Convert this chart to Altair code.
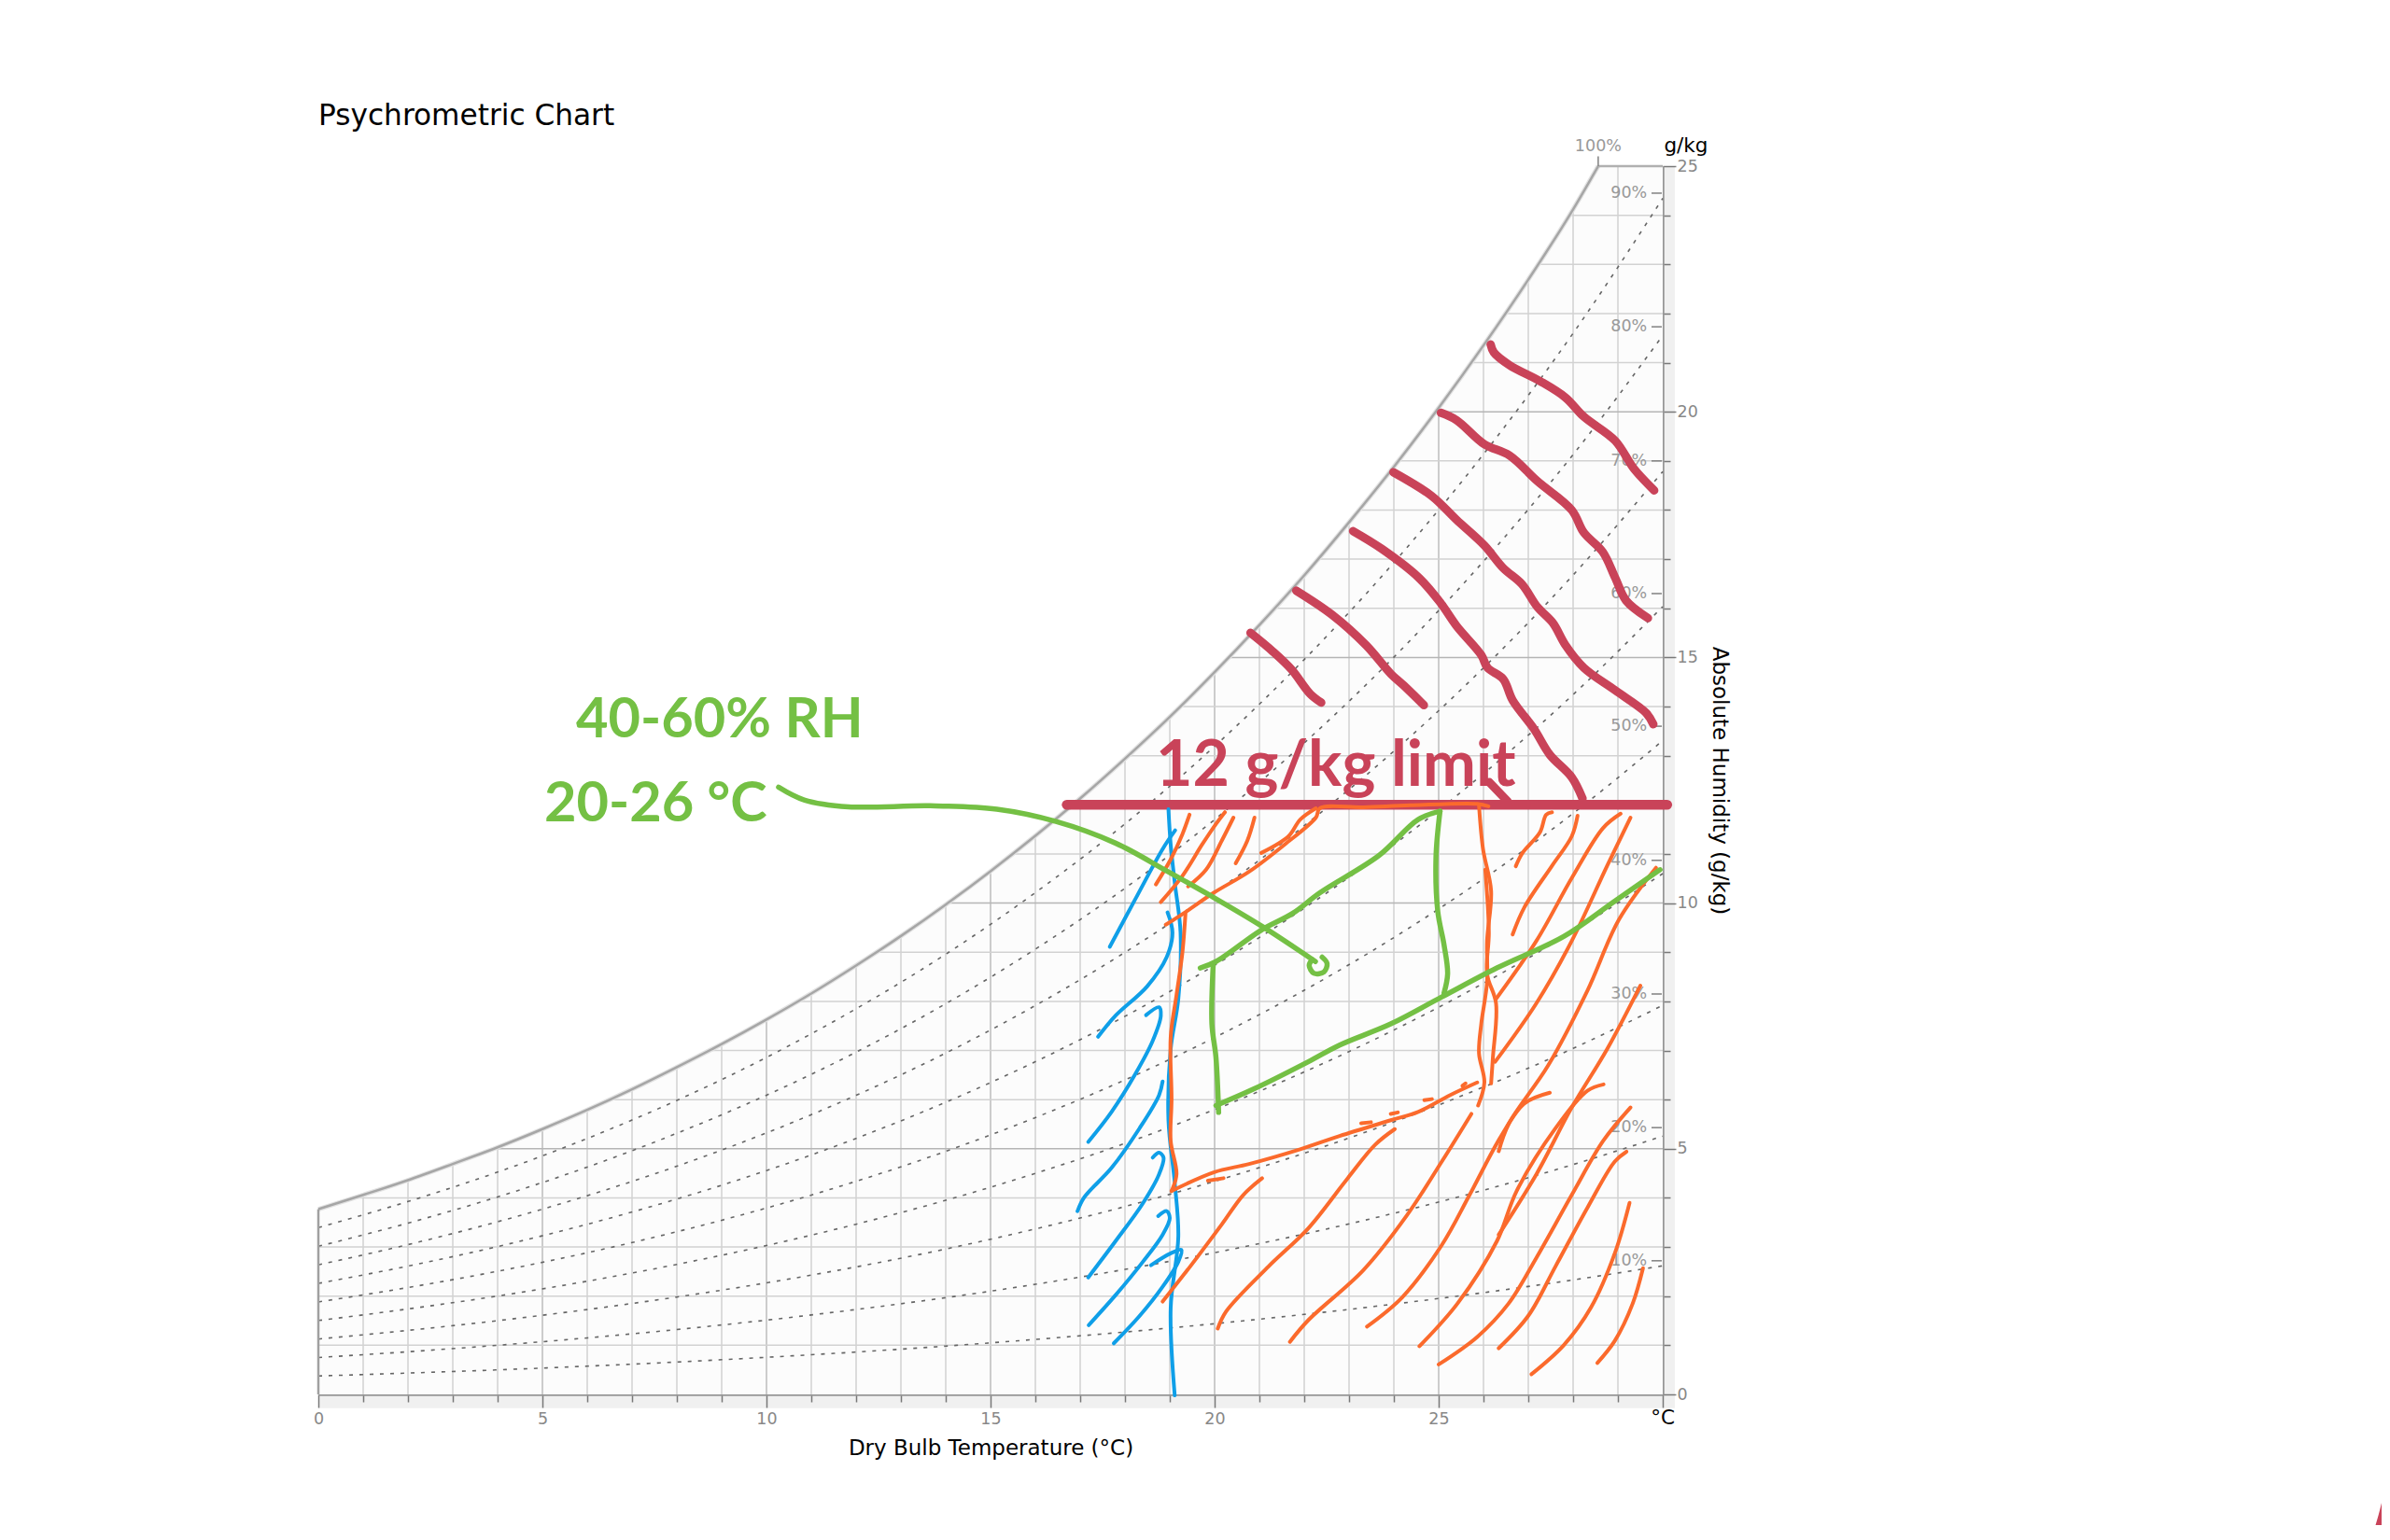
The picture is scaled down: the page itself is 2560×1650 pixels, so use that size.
import altair as alt
import pandas as pd

FONT = "DejaVu Sans"
BLUE, ORANGE, GREEN, RED = "#0f9fe8", "#fb6a2c", "#74c044", "#c94359"

# saturation curve
SAT_T = [0,1,2,3,4,5,6,7,8,9,10,11,12,13,14,15,16,17,18,19,20,21,22,23,24,25,26,27,28,28.56]
SAT_H = [3.77,4.06,4.36,4.69,5.03,5.40,5.79,6.21,6.66,7.13,7.63,8.16,8.73,9.33,9.97,10.65,11.37,12.13,12.94,13.79,14.70,15.66,16.67,17.75,18.88,20.08,21.35,22.69,24.12,25.0]

# relative humidity curves
RH_T = [0,2,4,6,8,10,12,14,16,18,20,22,24,26,28,30]
RH10 = [.375,.434,.499,.575,.659,.755,.862,.983,1.119,1.270,1.439,1.628,1.838,2.071,2.330,2.617]
RH20 = [.751,.868,1.000,1.150,1.320,1.512,1.728,1.969,2.241,2.544,2.885,3.265,3.687,4.156,4.679,5.257]
RH30 = [1.127,1.303,1.501,1.727,1.982,2.270,2.595,2.959,3.368,3.824,4.338,4.909,5.546,6.256,7.043,7.919]
RH40 = [1.504,1.739,2.002,2.304,2.646,3.030,3.464,3.951,4.499,5.109,5.797,6.563,7.416,8.368,9.425,10.601]
RH50 = [1.882,2.175,2.506,2.883,3.311,3.793,4.337,4.947,5.634,6.401,7.263,8.225,9.298,10.494,11.826,13.307]
RH60 = [2.259,2.611,3.009,3.463,3.977,4.556,5.211,5.946,6.772,7.696,8.735,9.896,11.190,12.635,14.243,16.034]
RH70 = [2.637,3.049,3.514,4.044,4.645,5.322,6.087,6.947,7.915,8.997,10.214,11.575,13.092,14.787,16.677,18.781]
RH80 = [3.015,3.486,4.019,4.626,5.315,6.090,6.966,7.952,9.063,10.302,11.700,13.261,15.006,16.956,19.129,21.552]
RH90 = [3.394,3.926,4.524,5.209,5.984,6.859,7.849,8.959,10.213,11.613,13.192,14.957,16.930,19.137,21.598,24.344]
RH_ALL = [RH10, RH20, RH30, RH40, RH50, RH60, RH70, RH80, RH90]

RH_LABELS = ["10%","20%","30%","40%","50%","60%","70%","80%","90%"]
RH_LABEL_H = [2.72,5.43,8.15,10.87,13.6,16.3,19.0,21.73,24.45]

X_VALUES = list(range(0, 31))
Y_VALUES = list(range(0, 26))

# hand-drawn strokes: (dry bulb list, humidity list)
BLUE_STROKES = [
 ([18.97,19.02,19.11,19.24,19.19,19.02,18.97,19.11,19.19,19.02,19.11],[11.91,11.19,10.42,9.40,8.05,7.03,5.58,4.31,3.21,1.76,-0.02]),
 ([17.66,18.23,18.84,19.12],[9.11,10.08,11.10,11.48]),
 ([17.40,17.79,18.49,18.93,19.06,18.95],[7.28,7.71,8.30,8.90,9.40,9.81]),
 ([17.18,17.70,18.23,18.62,18.80,18.76,18.47],[5.14,5.75,6.52,7.20,7.71,7.88,7.72]),
 ([16.94,17.09,17.70,18.32,18.76,18.84],[3.73,4.01,4.61,5.41,6.09,6.37]),
 ([17.18,17.79,18.40,18.76,18.86,18.76,18.62],[2.38,3.12,3.89,4.48,4.82,4.92,4.82]),
 ([17.19,17.79,18.40,18.84,19.0,18.93,18.74],[1.41,2.02,2.70,3.25,3.59,3.73,3.63]),
 ([17.75,18.32,18.84,19.19,19.26,19.02,18.58],[1.04,1.59,2.19,2.70,2.94,2.87,2.63]),
]
ORANGE_STROKES = [
 ([18.69,19.02,19.28,19.44],[10.38,10.89,11.40,11.80]),
 ([18.80,19.28,19.72,20.03,20.23],[10.02,10.55,11.19,11.61,11.85]),
 ([19.41,19.81,20.16,20.42],[10.34,10.68,11.27,11.74]),
 ([20.47,20.73,20.89],[10.81,11.27,11.74]),
 ([18.91,19.37,19.98,20.77,21.56,22.26,22.35,23.32,24.37,25.86,26.11],[9.56,9.83,10.21,10.64,11.19,11.74,11.93,11.95,11.99,12.02,11.97]),
 ([21.04,21.65,21.91,22.26],[11.02,11.36,11.70,11.93]),
 ([19.35,19.28,19.15,19.02,19.04,19.02,19.15,19.04],[9.79,8.98,8.13,7.28,6.01,5.16,4.48,4.14]),
 ([19.04,19.98,20.77,21.91,22.79,23.93,24.54,25.25,25.86],[4.14,4.52,4.69,4.99,5.26,5.58,5.75,6.09,6.35]),
 ([19.85,20.20],[4.35,4.40]),
 ([23.27,23.49],[5.52,5.54]),
 ([23.93,24.09],[5.71,5.74]),
 ([24.68,24.85],[5.99,6.01]),
 ([25.53,25.60],[6.28,6.33]),
 ([25.90,25.99,26.17,26.08,26.08,25.95,25.90,26.02,25.88],[11.99,11.10,10.25,9.23,8.39,7.54,6.94,6.35,5.88]),
 ([26.04,26.12,26.08,26.28,26.21,26.17],[10.68,9.40,8.56,7.96,6.86,6.33]),
 ([26.72,26.87,27.26,27.40,27.53],[10.75,11.02,11.44,11.80,11.85]),
 ([26.65,26.91,27.53,27.97,28.10],[9.36,9.91,10.76,11.36,11.78]),
 ([26.28,27.18,27.97,28.67,29.06],[8.05,9.23,10.51,11.53,11.82]),
 ([26.26,27.18,27.97,28.76,29.28],[6.77,7.96,9.23,10.76,11.74]),
 ([26.34,26.56,27.44,28.32,29.02,29.85],[4.95,5.50,6.69,8.22,9.66,10.72]),
 ([26.34,27.18,27.97,28.76,29.50],[3.25,4.48,5.84,7.03,8.32]),
 ([18.84,19.46,20.16,20.64,21.06],[1.89,2.61,3.46,4.06,4.40]),
 ([20.07,20.25,21.21,22.09,22.97,23.58,24.02],[1.34,1.68,2.61,3.38,4.40,5.08,5.40]),
 ([21.68,22.09,23.32,24.28,25.07,25.73],[1.07,1.51,2.53,3.63,4.74,5.71]),
 ([23.40,24.19,25.07,25.69,26.39,26.91,27.48],[1.38,1.98,3.04,4.06,5.25,5.92,6.14]),
 ([24.57,25.42,26.30,26.74,27.61,28.32,28.68],[0.98,1.85,3.12,4.14,5.42,6.18,6.31]),
 ([25.0,25.86,26.56,27.18,27.97,28.67,29.28],[0.61,1.17,1.85,2.78,4.06,5.16,5.84]),
 ([26.34,27.0,27.61,28.32,28.93,29.19],[0.94,1.60,2.61,3.80,4.74,4.94]),
 ([27.07,27.79,28.40,28.93,29.26],[0.41,1.00,1.77,2.87,3.90]),
 ([28.54,28.93,29.33,29.56],[0.64,1.09,1.85,2.57]),
]
GREEN_STROKES = [
 ([19.68,20.03,21.04,21.74,22.35,23.67,24.54,25.03],[8.68,8.81,9.45,9.79,10.21,10.97,11.70,11.87]),
 ([25.03,24.94,24.98,25.12,25.20,25.12],[11.87,10.93,9.83,9.15,8.56,8.17]),
 ([19.97,19.94,20.03,20.09],[8.77,7.54,6.86,5.74]),
 ([20.03,20.86,22.09,22.79,23.93,25.07,26.30,27.79,28.93,29.94],[5.88,6.21,6.77,7.11,7.54,8.09,8.68,9.32,10.04,10.68]),
 ([10.27,10.84,11.83,13.65,15.14,16.46,17.79,18.94,19.93,21.09,22.25],[12.36,12.10,11.96,11.98,11.91,11.66,11.22,10.65,10.14,9.51,8.81]),
 ([22.18,22.11,22.22,22.44,22.51,22.40],[8.85,8.73,8.57,8.60,8.77,8.90]),
]
RED_STROKES = [
 ([26.16,26.23,26.58,27.27,27.83,28.24,28.94,29.35,29.81],[21.37,21.21,20.95,20.62,20.29,19.90,19.41,18.85,18.40]),
 ([25.05,25.40,26.02,26.58,27.20,27.97,28.24,28.66,28.94,29.18,29.67],[19.98,19.83,19.34,19.11,18.59,18.0,17.54,17.15,16.62,16.16,15.80]),
 ([23.99,24.84,25.40,26.02,26.44,26.86,27.20,27.55,27.83,28.24,28.94,29.63,29.79],[18.77,18.29,17.80,17.28,16.82,16.49,16.03,15.70,15.25,14.79,14.33,13.87,13.64]),
 ([23.09,23.73,24.56,25.05,25.40,25.95,26.09,26.44,26.65,27.13,27.48,27.97,28.21],[17.57,17.21,16.62,16.10,15.64,15.05,14.79,14.56,14.13,13.54,13.02,12.56,12.13]),
 ([21.82,22.62,23.38,23.94,24.22,24.67],[16.36,15.87,15.25,14.66,14.43,14.03]),
 ([20.80,21.30,21.72,22.13,22.38],[15.50,15.12,14.75,14.26,14.08]),
 ([26.13,26.54],[12.46,12.07]),
 ([45.9,46.06,46.19],[-2.96,-2.49,-2.01]),
]
LIMIT_T = [16.7, 30.1]
LIMIT_H = [12.0, 12.0]

xs = alt.Scale(domain=[0, 30], nice=False, zero=False)
ys = alt.Scale(domain=[0, 25], nice=False, zero=False)
X_TITLE = "Dry Bulb Temperature (°C)"
Y_TITLE = "Absolute Humidity (g/kg)"
X_AXIS = alt.Axis(
    values=X_VALUES, grid=False, labelExpr="datum.value % 5 === 0 && datum.value < 30 ? datum.label : ''",
    labelFont=FONT, labelFontSize=17.5, labelColor="#888888", labelPadding=3, labelOverlap=False, labelFlush=False,
    tickColor="#808080", tickWidth=1.5, tickSize=alt.ExprRef("datum.value % 5 === 0 ? 14 : 8"),
    domainColor="#a0a0a0", domainWidth=2.5,
    titleFont=FONT, titleFontSize=23, titleFontWeight="normal", titleColor="#000000", titlePadding=12)
Y_AXIS = alt.Axis(
    orient="right", values=Y_VALUES, grid=False, labelExpr="datum.value % 5 === 0 ? datum.label : ''",
    labelFont=FONT, labelFontSize=17.5, labelColor="#888888", labelPadding=1, labelOverlap=False, labelFlush=False,
    tickColor="#808080", tickWidth=1.5, tickSize=alt.ExprRef("datum.value % 5 === 0 ? 14 : 8"),
    domainColor="#a0a0a0", domainWidth=2.5,
    titleFont=FONT, titleFontSize=23, titleFontWeight="normal", titleColor="#000000", titlePadding=11)
X = lambda f: alt.X(f, type="quantitative", scale=xs, title=X_TITLE, axis=X_AXIS)
Y = lambda f: alt.Y(f, type="quantitative", scale=ys, title=Y_TITLE, axis=Y_AXIS)


def stroke_df(strokes):
    rows = []
    for k, (ts, hs) in enumerate(strokes):
        for i, (t, h) in enumerate(zip(ts, hs)):
            rows.append({"t": t, "h": h, "k": k, "i": i})
    return pd.DataFrame(rows)


def strokes_layer(strokes, color, width):
    return alt.Chart(stroke_df(strokes)).mark_line(
        color=color, strokeWidth=width, strokeCap="round", strokeJoin="round",
        interpolate="catmull-rom", clip=False
    ).encode(x=X("t"), y=Y("h"), detail="k:N", order="i:Q")


def box(t, t2, h, h2, **kw):
    d = pd.DataFrame({"t": [t], "t2": [t2], "h": [h], "h2": [h2]})
    return alt.Chart(d).mark_rect(**kw).encode(x=X("t"), x2="t2", y=Y("h"), y2="h2")


def label(texts, ts, hs, **kw):
    d = pd.DataFrame({"s": texts, "t": ts, "h": hs})
    return alt.Chart(d).mark_text(**kw).encode(x=X("t"), y=Y("h"), text="s:N")


grid_v_minor = alt.Chart(pd.DataFrame({"t": [v for v in X_VALUES if v % 5]})).mark_rule(color="#d2d2d2", strokeWidth=1.5).encode(x=X("t"))
grid_v_major = alt.Chart(pd.DataFrame({"t": [v for v in X_VALUES if v % 5 == 0 and 0 < v < 30]})).mark_rule(color="#bdbdbd", strokeWidth=1.5).encode(x=X("t"))
grid_h_minor = alt.Chart(pd.DataFrame({"h": [v for v in Y_VALUES if v % 5]})).mark_rule(color="#d2d2d2", strokeWidth=1.5).encode(y=Y("h"))
grid_h_major = alt.Chart(pd.DataFrame({"h": [v for v in Y_VALUES if v % 5 == 0 and 0 < v < 25]})).mark_rule(color="#b5b5b5", strokeWidth=1.5).encode(y=Y("h"))

sat = pd.DataFrame({"t": SAT_T, "h": SAT_H, "top": [25.0] * len(SAT_T)})
mask = alt.Chart(sat).mark_area(color="#ffffff", opacity=1, interpolate="monotone").encode(x=X("t"), y=Y("h"), y2="top")
curve_soft = alt.Chart(sat).mark_line(color="#e2e2e2", strokeWidth=5, interpolate="monotone").encode(x=X("t"), y=Y("h"))
curve = alt.Chart(sat).mark_line(color="#a6a6a6", strokeWidth=2.5, interpolate="monotone").encode(x=X("t"), y=Y("h"))

rh_df = pd.concat([pd.DataFrame({"t": RH_T, "h": vals, "rh": name}) for name, vals in zip(RH_LABELS, RH_ALL)])
rh_lines = alt.Chart(rh_df).mark_line(color="#666666", strokeWidth=1.6, strokeDash=[4, 7], interpolate="monotone").encode(
    x=X("t"), y=Y("h"), detail="rh:N")

left_edge = alt.Chart(pd.DataFrame({"t": [0], "h": [0], "h2": [SAT_H[0]]})).mark_rule(color="#a0a0a0", strokeWidth=2.5).encode(x=X("t"), y=Y("h"), y2="h2")
top_edge = alt.Chart(pd.DataFrame({"t": [SAT_T[-1]], "t2": [30], "h": [25]})).mark_rule(color="#b0b0b0", strokeWidth=2.5).encode(x=X("t"), x2="t2", y=Y("h"))
top_tick = alt.Chart(pd.DataFrame({"t": [SAT_T[-1]], "h": [25], "h2": [25.2]})).mark_rule(color="#808080", strokeWidth=1.5).encode(x=X("t"), y=Y("h"), y2="h2")
rh_ticks = alt.Chart(pd.DataFrame({"t": [29.75] * 9, "t2": [29.98] * 9, "h": RH_LABEL_H})).mark_rule(color="#808080", strokeWidth=1.5).encode(x=X("t"), x2="t2", y=Y("h"))

rh_text = label(RH_LABELS, [29.65] * 9, RH_LABEL_H, align="right", baseline="middle", font=FONT, fontSize=17.5, color="#999999")
top_text = label(["100%"], [28.56], [25.4], align="center", baseline="middle", font=FONT, fontSize=17.5, color="#999999")
unit_y = label(["g/kg"], [30.52], [25.4], align="center", baseline="middle", font=FONT, fontSize=21.5, color="#000000")
unit_x = label(["°C"], [30], [-0.5], align="center", baseline="middle", font=FONT, fontSize=21.5, color="#000000")

limit = alt.Chart(pd.DataFrame({"t": LIMIT_T, "h": LIMIT_H})).mark_line(
    color=RED, strokeWidth=10.5, strokeCap="round", clip=False).encode(x=X("t"), y=Y("h"))

hand_red = label(["12 g/kg limit"], [18.69], [12.39], align="left", baseline="alphabetic",
                 font="Lato", fontWeight="bold", fontSize=68, color=RED)
hand_green = label(["40-60% RH", "20-26 °C"], [5.75, 5.04], [13.37, 11.66], align="left", baseline="alphabetic",
                   font="Lato", fontWeight="bold", fontSize=59.5, color=GREEN)

chart = alt.layer(
    box(0, 30, 0, 25, color="#fcfcfc"),
    box(30, 30.27, 0, 25, color="#000000", opacity=0.06),
    box(0, 30.27, -0.28, 0, color="#000000", opacity=0.06),
    grid_v_minor, grid_v_major, grid_h_minor, grid_h_major,
    mask, curve_soft, curve, rh_lines, left_edge, top_edge, top_tick, rh_ticks,
    rh_text, top_text, unit_y, unit_x,
    strokes_layer(RED_STROKES, RED, 9),
    limit,
    hand_red,
    strokes_layer(BLUE_STROKES, BLUE, 4),
    strokes_layer(ORANGE_STROKES, ORANGE, 4),
    strokes_layer(GREEN_STROKES, GREEN, 5.5),
    hand_green,
).properties(
    width=1440, height=1316,
    title=alt.TitleParams("Psychrometric Chart", anchor="start", frame="group", font=FONT, fontSize=31.2,
                          fontWeight="normal", color="#000000", offset=6),
    autosize=alt.AutoSizeParams(type="none"),
    padding={"left": 333, "top": 170, "right": 770, "bottom": 140},
).configure_view(stroke=None)

chart.save("out.html", embed_options={"renderer": "svg", "actions": False})
